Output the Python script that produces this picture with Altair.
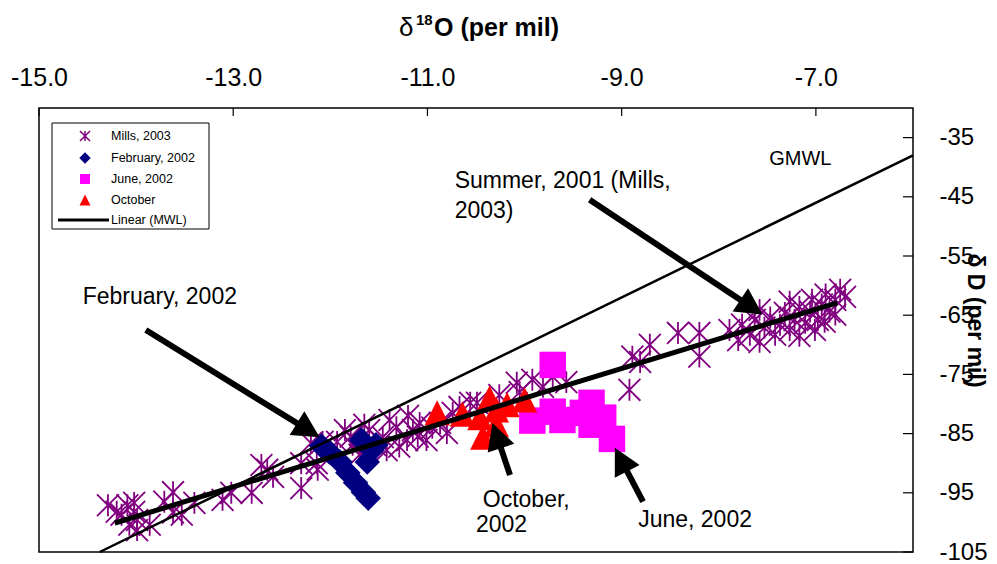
import math
import altair as alt
import pandas as pd

FONT = "Liberation Sans"

# ---------------- data (delta18O, deltaD, per mil) ----------------
mills_x = [-14.29, -14.20, -14.15, -14.09, -14.07, -14.02, -14.02, -13.99, -13.99, -13.86,
           -13.71, -13.62, -13.62, -13.53, -13.40, -13.11, -13.02, -12.81, -12.71, -12.65,
           -12.59, -12.30, -12.30, -12.13, -12.14, -12.20, -12.08, -11.93, -11.79,
           -11.77, -11.60, -11.46, -11.42, -11.32, -11.29, -11.21, -11.15, -11.08, -11.01,
           -10.87, -10.80, -10.74, -10.67, -10.56, -10.49, -10.26, -11.70, -11.54, -11.39,
           -11.65, -11.85, -11.20, -11.10, -10.95,
           -10.08, -9.92, -9.81, -9.71, -9.57, -10.05,
           -8.92, -8.89, -8.81, -8.71, -8.42, -8.20, -8.20,
           -7.89, -7.80, -7.76, -7.68, -7.63, -7.58, -7.53, -7.47, -7.42, -7.37,
           -7.32, -7.27, -7.22, -7.17, -7.11, -7.06, -7.04, -6.98, -6.94, -6.90,
           -6.86, -6.80, -6.75, -6.70, -7.01, -7.17, -7.27, -6.91, -6.80, -7.58]
mills_y = [-97.1, -98.2, -98.7, -97.1, -100.4, -98.2, -96.7, -99.6, -101.3, -100.4,
           -96.5, -94.9, -98.3, -98.7, -96.7, -96.2, -95.0, -95.0, -90.3, -91.1,
           -92.3, -94.2, -90.0, -91.1, -90.0, -86.6, -86.4, -86.4, -85.5,
           -86.9, -84.4, -85.6, -87.8, -83.9, -87.2, -86.1, -84.4, -83.2, -86.1,
           -83.2, -84.9, -81.5, -80.5, -79.8, -79.8, -78.5, -88.6, -86.9, -82.7,
           -83.5, -84.4, -82.0, -85.5, -84.0,
           -76.4, -75.9, -77.1, -75.4, -76.3, -78.0,
           -77.6, -72.0, -72.9, -70.0, -68.0, -68.0, -72.0,
           -67.5, -69.2, -66.6, -68.3, -65.8, -69.5, -67.1, -65.4, -68.3, -66.6,
           -64.6, -67.5, -65.8, -63.6, -66.3, -64.4, -62.4, -65.8, -63.2, -61.5,
           -64.4, -62.4, -60.7, -61.9, -67.5, -68.5, -62.7, -66.1, -64.9, -64.1]

feb_x = [-12.09, -12.01, -11.90, -11.82, -11.74, -11.66, -11.61, -11.68, -11.57, -11.62, -11.53]
feb_y = [-87.1, -88.1, -89.8, -91.6, -93.3, -94.9, -95.9, -86.1, -87.8, -89.8, -86.9]

jun_x = [-9.71, -9.92, -9.71, -9.61, -9.40, -9.31, -9.31, -9.19, -9.10]
jun_y = [-73.4, -82.8, -81.3, -82.7, -81.5, -79.8, -83.5, -82.3, -85.9]

oct_x = [-10.90, -10.64, -10.46, -10.36, -10.29, -10.18, -10.00, -10.43, -10.29]
oct_y = [-81.5, -81.7, -82.3, -79.0, -81.0, -80.1, -79.3, -85.6, -83.5]

# Linear (MWL) trend line and GMWL (dD = 8 d18O + 10)
mwl_x = [-14.22, -6.78]
mwl_y = [-100.1, -62.9]
gmwl_x = [-14.375, -6.0]
gmwl_y = [-105.0, -38.0]

# annotation arrows (tail -> tip)
arrow_tail_x = [-13.90, -9.33, -10.15, -8.78]
arrow_tail_y = [-67.5, -45.5, -92.0, -96.5]
arrow_tip_x = [-12.11, -7.55, -10.33, -9.07]
arrow_tip_y = [-85.6, -64.9, -83.2, -87.4]

# annotation texts
note_text = ["February, 2002", "Summer, 2001 (Mills,", "2003)", "October,", "2002", "June, 2002"]
note_x = [-14.55, -10.72, -10.72, -10.43, -10.50, -8.83]
note_y = [-63.1, -43.5, -48.5, -97.4, -101.7, -100.8]

x_ticks = [-15, -13, -11, -9, -7]
y_ticks = [-105, -95, -85, -75, -65, -55, -45, -35]

legend_labels = ["Mills, 2003", "February, 2002", "June, 2002", "October", "Linear (MWL)"]

# ---------------- layout ----------------
W, H = 874, 444
XMIN, XMAX, YMIN, YMAX = -15, -6, -105, -30

xs = alt.Scale(domain=[XMIN, XMAX], nice=False, zero=False)
ys = alt.Scale(domain=[YMIN, YMAX], nice=False, zero=False)

x_axis = alt.Axis(orient="top", values=x_ticks, labelExpr="datum.value + '.0'",
                  ticks=False, tickSize=0, domain=False, grid=False, labelFlush=False,
                  labelFont=FONT, labelFontSize=25, labelColor="black",
                  labelPadding=23, labelBaseline="alphabetic", title="")
y_axis = alt.Axis(orient="right", values=y_ticks, labelExpr="'' + datum.value",
                  ticks=False, tickSize=0, domain=False, grid=False, labelFlush=False,
                  labelFont=FONT, labelFontSize=24, labelColor="black",
                  labelPadding=26, labelAlign="left", labelBaseline="middle",
                  title="δ D (per mil)", titleFont=FONT, titleFontSize=23,
                  titleFontWeight="bold", titleColor="black", titleAngle=90,
                  titleX=61, titleY=212, titleAlign="center", titleBaseline="middle")


def X(field="x"):
    return alt.X(field, type="quantitative", scale=xs, axis=x_axis)


def Y(field="y"):
    return alt.Y(field, type="quantitative", scale=ys, axis=y_axis)


STAR = "M0,-1L0,1M-1,-1L1,1M-1,1L1,-1"
TRI = "M0,-1L1,1L-1,1Z"
HEAD = "M0,0L1,1.9L-1,1.9Z"

mills = pd.DataFrame({"x": mills_x, "y": mills_y})
feb = pd.DataFrame({"x": feb_x, "y": feb_y})
jun = pd.DataFrame({"x": jun_x, "y": jun_y})
octo = pd.DataFrame({"x": oct_x, "y": oct_y})
mwl = pd.DataFrame({"x": mwl_x, "y": mwl_y})
gmwl = pd.DataFrame({"x": gmwl_x, "y": gmwl_y})

# arrows: shaft ends a little before the tip, head rotated toward the tip
kx = W / (XMAX - XMIN)
ky = H / (YMAX - YMIN)
rows = []
for tx, ty, hx, hy in zip(arrow_tail_x, arrow_tail_y, arrow_tip_x, arrow_tip_y):
    dxp = (hx - tx) * kx
    dyp = -(hy - ty) * ky
    L = math.hypot(dxp, dyp)
    ux, uy = dxp / L, dyp / L
    back = 20
    rows.append({"x": tx, "y": ty, "x2": hx - ux * back / kx, "y2": hy + uy * back / ky,
                 "hx": hx, "hy": hy,
                 "angle": math.degrees(math.atan2(dxp, -dyp)) % 360})
arrows = pd.DataFrame(rows)
notes = pd.DataFrame({"x": note_x, "y": note_y, "t": note_text})
xt = pd.DataFrame({"x": x_ticks})
yt = pd.DataFrame({"y": y_ticks})
one = pd.DataFrame({"a": [0]})

layers = []

# tick marks (inside the frame)
layers.append(alt.Chart(xt).mark_rule(color="black", strokeWidth=1.2).encode(
    x=X(), y=alt.value(0), y2=alt.value(8)))
layers.append(alt.Chart(yt).mark_rule(color="black", strokeWidth=1.2).encode(
    y=Y(), x=alt.value(W - 10), x2=alt.value(W)))

# data series
layers.append(alt.Chart(mills).mark_point(shape=STAR, filled=False, color="#800080",
                                          strokeWidth=1.8, size=480, opacity=1).encode(x=X(), y=Y()))
layers.append(alt.Chart(feb).mark_point(shape="diamond", filled=True, color="#000080",
                                        size=650, opacity=1).encode(x=X(), y=Y()))
layers.append(alt.Chart(jun).mark_point(shape="square", filled=True, color="#FF00FF",
                                        size=700, opacity=1).encode(x=X(), y=Y()))
layers.append(alt.Chart(octo).mark_point(shape=TRI, filled=True, color="#FF0000",
                                         size=640, opacity=1).encode(x=X(), y=Y()))

# lines
layers.append(alt.Chart(gmwl).mark_line(color="black", strokeWidth=2.5).encode(x=X(), y=Y()))
layers.append(alt.Chart(mwl).mark_line(color="black", strokeWidth=5).encode(x=X(), y=Y()))

# arrows
layers.append(alt.Chart(arrows).mark_rule(color="black", strokeWidth=6).encode(
    x=X(), y=Y(), x2=alt.X2("x2"), y2=alt.Y2("y2")))
layers.append(alt.Chart(arrows).mark_point(shape=HEAD, filled=True, color="black",
                                           size=784, opacity=1).encode(
    x=X("hx"), y=Y("hy"), angle=alt.Angle("angle:Q", scale=None)))

# annotation texts
layers.append(alt.Chart(notes).mark_text(align="left", baseline="alphabetic", font=FONT,
                                         fontSize=23, color="black").encode(
    x=X(), y=Y(), text="t:N"))
layers.append(alt.Chart(pd.DataFrame({"x": [-7.48], "y": [-39.6], "t": ["GMWL"]})).mark_text(
    align="left", baseline="alphabetic", font=FONT, fontSize=20, color="black").encode(
    x=X(), y=Y(), text="t:N"))

# x-axis title with a raised "18"
layers.append(alt.Chart(one).mark_text(align="left", baseline="alphabetic", font=FONT,
                                       fontSize=26, color="black").encode(
    x=alt.value(360), y=alt.value(-72), text=alt.value("δ")))
layers.append(alt.Chart(one).mark_text(align="left", baseline="alphabetic", font=FONT,
                                       fontSize=15, fontWeight="bold", color="black").encode(
    x=alt.value(377), y=alt.value(-83), text=alt.value("18")))
layers.append(alt.Chart(one).mark_text(align="left", baseline="alphabetic", font=FONT,
                                       fontSize=25, fontWeight="bold", color="black").encode(
    x=alt.value(395), y=alt.value(-72), text=alt.value("O (per mil)")))

# legend box
LX0, LX1, LY0, LY1 = 13, 170, 15, 121
SX, TX = 46, 72
ROWS = [28, 50, 71, 92, 112]
layers.append(alt.Chart(one).mark_rect(fill="white", stroke="black", strokeWidth=1).encode(
    x=alt.value(LX0), x2=alt.value(LX1), y=alt.value(LY0), y2=alt.value(LY1)))
layers.append(alt.Chart(one).mark_point(shape=STAR, filled=False, color="#800080", strokeWidth=1.5,
                                        size=100, opacity=1).encode(x=alt.value(SX), y=alt.value(ROWS[0])))
layers.append(alt.Chart(one).mark_point(shape="diamond", filled=True, color="#000080",
                                        size=130, opacity=1).encode(x=alt.value(SX), y=alt.value(ROWS[1])))
layers.append(alt.Chart(one).mark_point(shape="square", filled=True, color="#FF00FF",
                                        size=100, opacity=1).encode(x=alt.value(SX), y=alt.value(ROWS[2])))
layers.append(alt.Chart(one).mark_point(shape=TRI, filled=True, color="#FF0000",
                                        size=121, opacity=1).encode(x=alt.value(SX), y=alt.value(ROWS[3])))
layers.append(alt.Chart(one).mark_rule(color="black", strokeWidth=3).encode(
    x=alt.value(19), x2=alt.value(70), y=alt.value(ROWS[4])))
for lab, ry in zip(legend_labels, ROWS):
    layers.append(alt.Chart(pd.DataFrame({"t": [lab]})).mark_text(
        align="left", baseline="middle", font=FONT, fontSize=12.5, color="black").encode(
        x=alt.value(TX), y=alt.value(ry), text="t:N"))

chart = alt.layer(*layers).properties(
    width=W, height=H, autosize="none",
    padding={"left": 31, "top": 100, "right": 76, "bottom": 12},
    background="white",
).configure_view(stroke="black", strokeWidth=1.5)

chart.save("out.html", embed_options={"renderer": "svg", "actions": False})
